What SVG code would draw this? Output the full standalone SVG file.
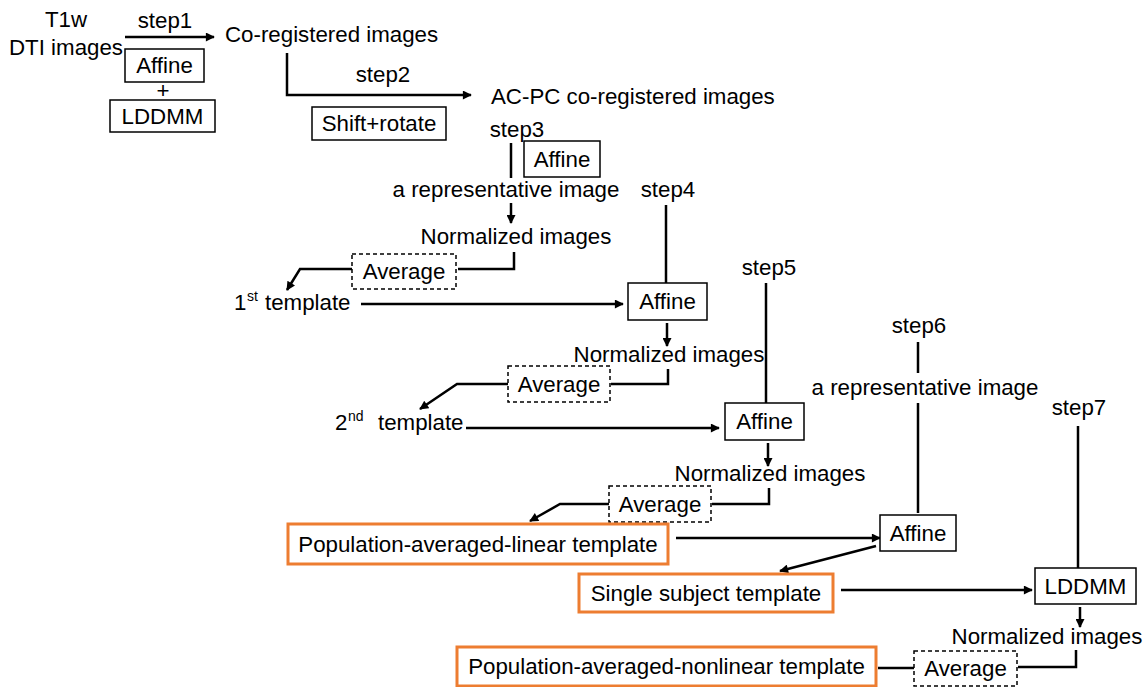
<svg xmlns="http://www.w3.org/2000/svg" width="1148" height="687" viewBox="0 0 1148 687">
<style>
text{font-family:"Liberation Sans",Arial,sans-serif;font-size:22.3px;fill:#000}
.c{text-anchor:middle}
.sup{font-size:14px}
.box{fill:#fff;stroke:#000;stroke-width:1.5}
.dash{fill:#fff;stroke:#000;stroke-width:1.5;stroke-dasharray:4 3}
.org{fill:#fff;stroke:#ED7D31;stroke-width:3}
.ln{fill:none;stroke:#000;stroke-width:2.5}
.ar{marker-end:url(#ah)}
</style>
<defs>
<marker id="ah" viewBox="0 0 10 10" refX="9" refY="5" markerWidth="10" markerHeight="9" markerUnits="userSpaceOnUse" orient="auto"><path d="M0,0 L10,5 L0,10 z" fill="#000"/></marker>
</defs>
<rect width="1148" height="687" fill="#fff"/>
<g id="connectors">
<path class="ln ar" d="M125,37 H214"/>
<path class="ln ar" d="M287,53 V95 H471"/>
<path class="ln" d="M511,143 V178"/>
<path class="ln ar" d="M511,203 V223"/>
<path class="ln" d="M514,252 V269 H458"/>
<path class="ln ar" d="M352,269 H300 L287,290"/>
<path class="ln ar" d="M361,304 H623"/>
<path class="ln" d="M666,205 V283"/>
<path class="ln ar" d="M667,323 V346"/>
<path class="ln" d="M668,369 V384 H611"/>
<path class="ln ar" d="M508,384 H457 L420,409"/>
<path class="ln ar" d="M466,428 H719"/>
<path class="ln" d="M766,283 V403"/>
<path class="ln ar" d="M768,443 V466"/>
<path class="ln" d="M769,488 V504 H712"/>
<path class="ln ar" d="M609,504 H560 L530,521"/>
<path class="ln ar" d="M676,538 H880"/>
<path class="ln" d="M918,342 V373"/>
<path class="ln" d="M918,403 V513"/>
<path class="ln ar" d="M876,546 L780,571"/>
<path class="ln ar" d="M841,590 H1032"/>
<path class="ln" d="M1078,426 V568"/>
<path class="ln ar" d="M1080,607 V627"/>
<path class="ln" d="M1076,650 V667 H1018"/>
<path class="ln" d="M914,668 H878"/>
</g>
<g id="n-t1w"><text class="c" x="66" y="27">T1w</text><text class="c" x="66" y="55">DTI images</text></g>
<g id="n-step1"><text class="c" x="165" y="28">step1</text></g>
<g id="n-affine1"><rect class="box" x="125" y="49" width="79" height="33"/><text class="c" x="164.5" y="73">Affine</text></g>
<g id="n-plus"><text class="c" x="163" y="98">+</text></g>
<g id="n-lddmm1"><rect class="box" x="110" y="100" width="105" height="32"/><text class="c" x="162.5" y="124">LDDMM</text></g>
<g id="n-coreg"><text x="225" y="42">Co-registered images</text></g>
<g id="n-step2"><text class="c" x="383" y="82">step2</text></g>
<g id="n-shift"><rect class="box" x="312" y="107" width="134" height="33"/><text class="c" x="379" y="131">Shift+rotate</text></g>
<g id="n-acpc"><text x="491" y="104">AC-PC co-registered images</text></g>
<g id="n-step3"><text class="c" x="517" y="137">step3</text></g>
<g id="n-affine3"><rect class="box" x="524" y="141" width="76" height="36"/><text class="c" x="562" y="167">Affine</text></g>
<g id="n-rep1"><text class="c" x="506" y="197">a representative image</text></g>
<g id="n-norm1"><text class="c" x="516" y="244">Normalized images</text></g>
<g id="n-avg1"><rect class="dash" x="352" y="254" width="104" height="35"/><text class="c" x="404" y="279">Average</text></g>
<g id="n-t1"><text x="234" y="310">1</text><text class="sup" x="247" y="301">st</text><text x="265" y="310">template</text></g>
<g id="n-step4"><text class="c" x="668" y="197">step4</text></g>
<g id="n-affine4"><rect class="box" x="628" y="283" width="79" height="37"/><text class="c" x="667.5" y="309">Affine</text></g>
<g id="n-norm2"><text class="c" x="669" y="362">Normalized images</text></g>
<g id="n-avg2"><rect class="dash" x="508" y="366" width="102" height="36"/><text class="c" x="559" y="392">Average</text></g>
<g id="n-t2"><text x="335" y="430">2</text><text class="sup" x="348" y="421">nd</text><text x="378" y="430">template</text></g>
<g id="n-step5"><text class="c" x="769" y="275">step5</text></g>
<g id="n-affine5"><rect class="box" x="725" y="403" width="79" height="37"/><text class="c" x="764.5" y="429">Affine</text></g>
<g id="n-norm3"><text class="c" x="770" y="481">Normalized images</text></g>
<g id="n-avg3"><rect class="dash" x="609" y="486" width="102" height="36"/><text class="c" x="660" y="512">Average</text></g>
<g id="n-poplin"><rect class="org" x="288" y="524" width="380" height="40"/><text class="c" x="478" y="552">Population-averaged-linear template</text></g>
<g id="n-step6"><text class="c" x="919" y="333">step6</text></g>
<g id="n-rep2"><text class="c" x="925" y="395">a representative image</text></g>
<g id="n-affine6"><rect class="box" x="880" y="515" width="76" height="36"/><text class="c" x="918" y="541">Affine</text></g>
<g id="n-single"><rect class="org" x="579" y="574" width="254" height="38"/><text class="c" x="706" y="601">Single subject template</text></g>
<g id="n-step7"><text class="c" x="1079" y="415">step7</text></g>
<g id="n-lddmm7"><rect class="box" x="1035" y="568" width="101" height="36"/><text class="c" x="1085.5" y="594">LDDMM</text></g>
<g id="n-norm4"><text class="c" x="1047" y="644">Normalized images</text></g>
<g id="n-avg4"><rect class="dash" x="914" y="651" width="103" height="35"/><text class="c" x="965.5" y="676">Average</text></g>
<g id="n-popnl"><rect class="org" x="457" y="647" width="419" height="39"/><text class="c" x="666.5" y="674">Population-averaged-nonlinear template</text></g>
</svg>
